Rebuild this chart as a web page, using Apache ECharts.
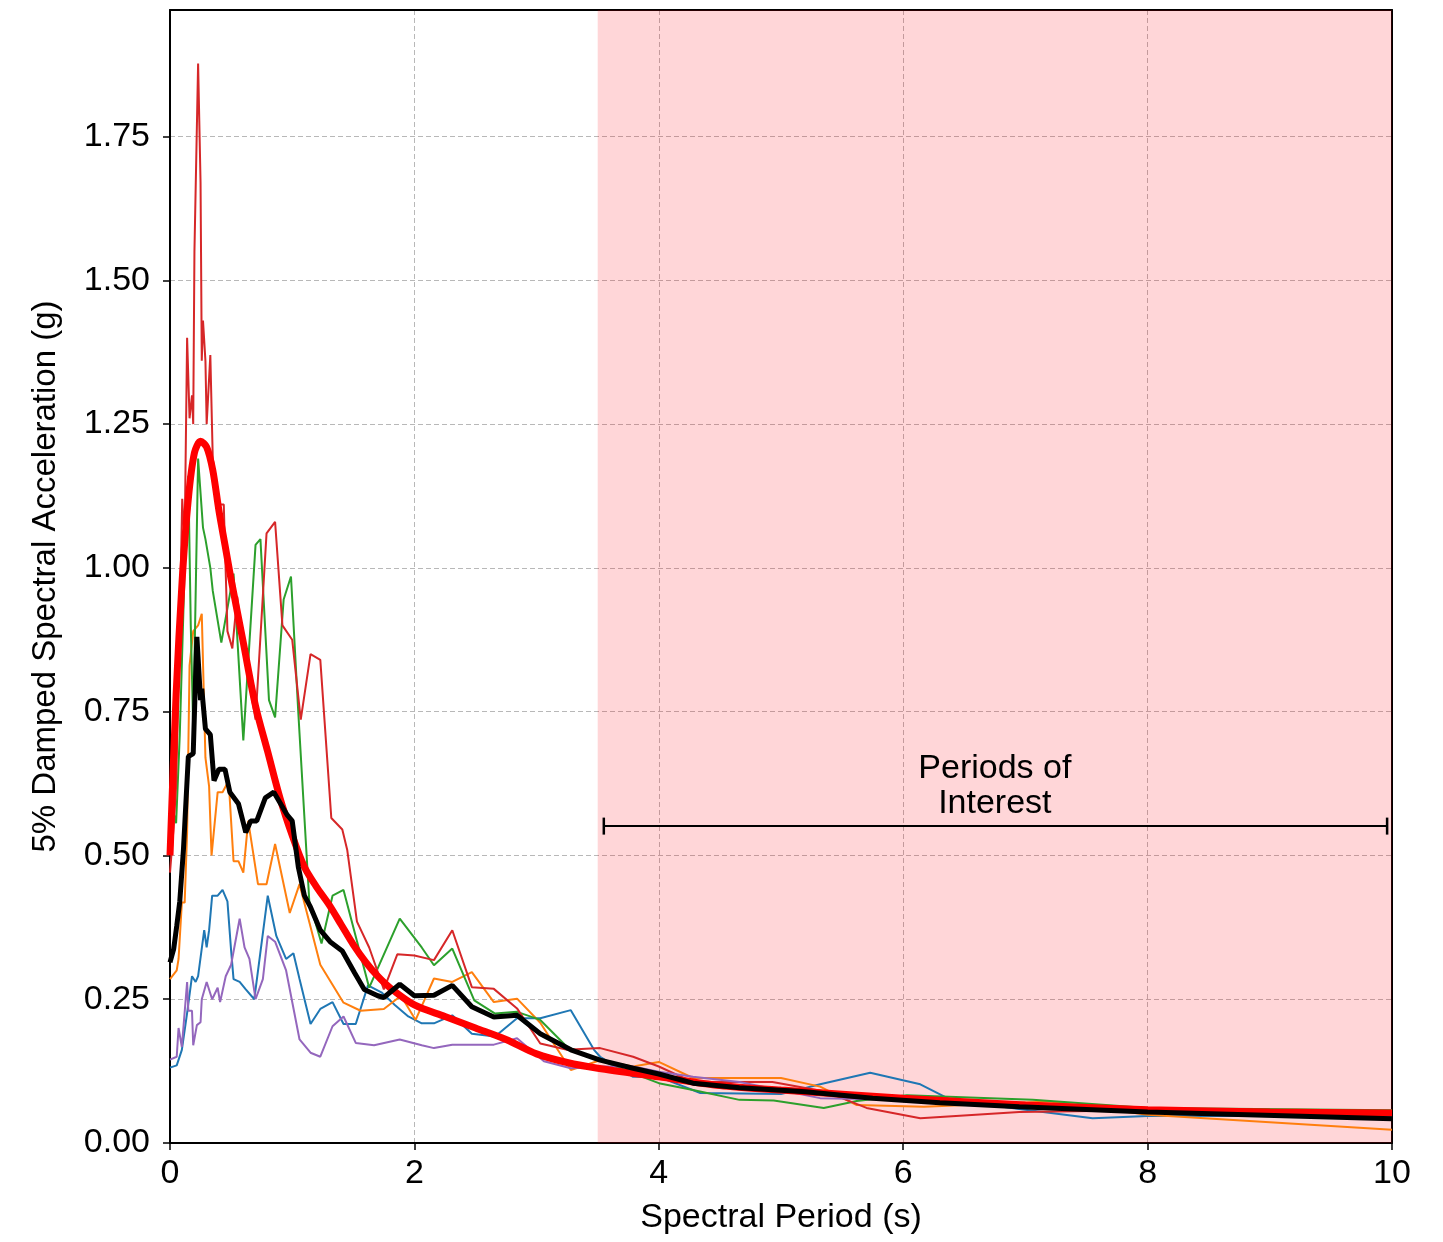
<!DOCTYPE html>
<html>
<head>
<meta charset="utf-8">
<script src="https://cdn.jsdelivr.net/npm/echarts@6/dist/echarts.min.js"></script>
<style>
  html, body { margin: 0; padding: 0; background: #fff; }
  #chart { width: 1443px; height: 1242px; }
</style>
</head>
<body>
<div id="chart"></div>
<script>
// spectra as [period (s), Sa (g)] pairs
const blueRecord = [[0,0.131],[0.055,0.135],[0.097,0.162],[0.14,0.226],[0.18,0.29],[0.21,0.28],[0.23,0.29],[0.28,0.37],[0.3,0.34],[0.32,0.37],[0.345,0.43],[0.39,0.43],[0.43,0.44],[0.47,0.42],[0.5,0.335],[0.52,0.285],[0.57,0.28],[0.62,0.267],[0.69,0.25],[0.8,0.43],[0.87,0.36],[0.95,0.32],[1.01,0.33],[1.06,0.285],[1.15,0.207],[1.23,0.233],[1.33,0.245],[1.42,0.207],[1.52,0.207],[1.62,0.274],[1.73,0.262],[1.84,0.24],[1.95,0.22],[2.06,0.208],[2.16,0.208],[2.31,0.222],[2.47,0.19],[2.66,0.185],[2.84,0.217],[3.03,0.217],[3.28,0.231],[3.47,0.162],[3.52,0.15],[3.79,0.115],[4.0,0.115],[4.34,0.087],[5.0,0.085],[5.32,0.102],[5.73,0.122],[6.14,0.102],[6.39,0.075],[6.95,0.059],[7.55,0.043],[8.0,0.047],[10,0.047]];
const orangeRecord = [[0,0.285],[0.055,0.3],[0.07,0.32],[0.097,0.418],[0.12,0.418],[0.14,0.54],[0.16,0.83],[0.19,0.89],[0.23,0.9],[0.26,0.92],[0.29,0.67],[0.32,0.62],[0.34,0.5],[0.39,0.61],[0.43,0.61],[0.48,0.63],[0.52,0.49],[0.56,0.49],[0.6,0.47],[0.64,0.56],[0.72,0.45],[0.79,0.45],[0.86,0.52],[0.98,0.4],[1.06,0.45],[1.23,0.31],[1.42,0.244],[1.56,0.23],[1.75,0.233],[1.89,0.256],[2.01,0.214],[2.16,0.286],[2.31,0.28],[2.47,0.297],[2.65,0.245],[2.84,0.251],[3.03,0.209],[3.28,0.127],[3.52,0.144],[3.79,0.133],[4.0,0.141],[4.28,0.113],[5.0,0.113],[5.32,0.098],[5.62,0.066],[6.17,0.063],[7.2,0.072],[8.0,0.049],[10,0.023]];
const greenRecord = [[0,0.6],[0.05,0.556],[0.08,0.71],[0.12,1.0],[0.15,1.16],[0.17,0.9],[0.19,0.72],[0.23,1.19],[0.27,1.07],[0.29,1.05],[0.33,1.0],[0.35,0.96],[0.42,0.87],[0.52,0.99],[0.6,0.7],[0.7,1.04],[0.74,1.05],[0.81,0.77],[0.86,0.74],[0.93,0.945],[0.99,0.985],[1.05,0.748],[1.14,0.42],[1.24,0.347],[1.33,0.43],[1.42,0.44],[1.63,0.27],[1.88,0.39],[2.06,0.34],[2.16,0.309],[2.31,0.338],[2.49,0.248],[2.66,0.225],[2.84,0.228],[3.03,0.214],[3.25,0.167],[3.52,0.144],[3.79,0.121],[4.0,0.104],[4.28,0.092],[4.66,0.075],[4.94,0.074],[5.35,0.061],[5.62,0.073],[6.03,0.083],[7.06,0.075],[8.0,0.061],[10,0.057]];
const redRecord = [[0,0.47],[0.03,0.55],[0.05,0.62],[0.08,0.9],[0.1,1.12],[0.12,1.05],[0.14,1.4],[0.16,1.26],[0.18,1.3],[0.19,1.25],[0.2,1.55],[0.23,1.877],[0.25,1.67],[0.26,1.36],[0.27,1.43],[0.29,1.36],[0.3,1.25],[0.33,1.37],[0.35,1.19],[0.4,1.11],[0.44,1.11],[0.47,0.89],[0.51,0.86],[0.55,0.95],[0.59,0.875],[0.7,0.736],[0.79,1.06],[0.86,1.08],[0.92,0.9],[1.0,0.875],[1.07,0.736],[1.15,0.85],[1.23,0.84],[1.32,0.565],[1.41,0.545],[1.45,0.51],[1.53,0.385],[1.63,0.34],[1.75,0.267],[1.86,0.328],[2.0,0.326],[2.16,0.318],[2.31,0.37],[2.47,0.271],[2.65,0.268],[2.84,0.234],[3.03,0.173],[3.25,0.162],[3.52,0.165],[3.79,0.15],[4.0,0.133],[4.28,0.106],[4.93,0.106],[5.37,0.089],[5.7,0.061],[6.14,0.043],[6.95,0.054],[8.0,0.057],[10,0.049]];
const purpleRecord = [[0,0.145],[0.055,0.15],[0.07,0.2],[0.097,0.167],[0.14,0.28],[0.15,0.23],[0.18,0.23],[0.19,0.17],[0.22,0.205],[0.25,0.21],[0.26,0.25],[0.3,0.28],[0.345,0.25],[0.39,0.27],[0.41,0.245],[0.456,0.29],[0.5,0.31],[0.57,0.39],[0.61,0.34],[0.65,0.32],[0.7,0.25],[0.76,0.285],[0.8,0.36],[0.86,0.35],[0.95,0.3],[1.06,0.18],[1.15,0.157],[1.23,0.15],[1.33,0.203],[1.42,0.22],[1.52,0.174],[1.67,0.17],[1.88,0.18],[2.06,0.17],[2.16,0.165],[2.31,0.171],[2.65,0.171],[2.84,0.182],[3.06,0.142],[3.28,0.13],[3.52,0.133],[3.79,0.133],[4.0,0.124],[4.28,0.115],[4.66,0.106],[5.32,0.078],[6.03,0.075],[7.0,0.064],[8.0,0.055],[10,0.044]];
const meanSpectrum = [[0,0.314],[0.03,0.337],[0.055,0.377],[0.08,0.42],[0.11,0.51],[0.15,0.672],[0.19,0.677],[0.2,0.747],[0.22,0.88],[0.25,0.77],[0.26,0.79],[0.29,0.72],[0.33,0.71],[0.36,0.63],[0.4,0.65],[0.45,0.65],[0.49,0.61],[0.56,0.59],[0.62,0.54],[0.66,0.56],[0.71,0.56],[0.78,0.6],[0.85,0.61],[0.96,0.57],[1.0,0.56],[1.05,0.48],[1.1,0.43],[1.15,0.41],[1.23,0.37],[1.31,0.35],[1.41,0.334],[1.51,0.296],[1.59,0.267],[1.7,0.256],[1.75,0.253],[1.88,0.276],[2.0,0.256],[2.16,0.257],[2.31,0.274],[2.47,0.237],[2.65,0.219],[2.84,0.222],[3.03,0.19],[3.28,0.162],[3.52,0.144],[3.79,0.13],[4.0,0.12],[4.28,0.104],[4.66,0.096],[5.2,0.089],[5.75,0.078],[6.3,0.07],[6.95,0.063],[8.0,0.054],[10,0.042]];
const targetSpectrum = [[0,0.5],[0.05,0.78],[0.1,0.98],[0.15,1.12],[0.2,1.2],[0.25,1.22],[0.3,1.21],[0.35,1.17],[0.4,1.1],[0.45,1.04],[0.5,0.98],[0.6,0.87],[0.7,0.76],[0.8,0.68],[0.9,0.6],[1.0,0.535],[1.1,0.48],[1.2,0.445],[1.3,0.415],[1.4,0.38],[1.5,0.345],[1.6,0.315],[1.7,0.29],[1.8,0.27],[2.0,0.24],[2.25,0.22],[2.5,0.2],[2.75,0.18],[3.0,0.155],[3.25,0.14],[3.5,0.13],[4.0,0.115],[4.5,0.1],[5.0,0.092],[6.0,0.078],[7.0,0.066],[8.0,0.058],[9.0,0.054],[10,0.052]];

const spanStart = 3.5, spanEnd = 10;
const interestBar = [[3.55, 0.551], [9.96, 0.551]];
const interestLabel = [[6.75, 0.621]];

const font = '"Liberation Sans", Arial, sans-serif';
const chart = echarts.init(document.getElementById('chart'), null, { renderer: 'canvas' });

function thin(data, color) {
  return {
    type: 'line', data: data, showSymbol: false, symbol: 'none',
    lineStyle: { color: color, width: 2 }, z: 3, silent: true
  };
}

const gridDash = { show: true, lineStyle: { color: '#b8b8b8', width: 1, type: [5, 3] } };
// top and right axes only draw the frame
const frameOnly = {
  axisLine: { show: true, onZero: false, lineStyle: { color: '#000', width: 2 } },
  axisTick: { show: false }, axisLabel: { show: false }, splitLine: { show: false }
};

let option = {
  animation: false,
  backgroundColor: '#fff',
  grid: { left: 170, right: 51, top: 10, bottom: 99 },
  xAxis: [{
    type: 'value', min: 0, max: 10, interval: 2,
    name: 'Spectral Period (s)', nameLocation: 'middle', nameGap: 58,
    nameTextStyle: { fontFamily: font, fontSize: 34, color: '#000' },
    axisLine: { onZero: false, lineStyle: { color: '#000', width: 2 } },
    axisTick: { show: true, length: 7, lineStyle: { color: '#000', width: 1.5 } },
    axisLabel: { fontFamily: font, fontSize: 34, color: '#000', margin: 14 },
    splitLine: gridDash
  }, Object.assign({ type: 'value', min: 0, max: 10, position: 'top' }, frameOnly)],
  yAxis: [{
    type: 'value', min: 0, max: 1.97, interval: 0.25,
    name: '5% Damped Spectral Acceleration (g)', nameLocation: 'middle', nameGap: 108,
    nameTextStyle: { fontFamily: font, fontSize: 33, color: '#000' },
    axisLine: { onZero: false, lineStyle: { color: '#000', width: 2 } },
    axisTick: { show: true, length: 7, lineStyle: { color: '#000', width: 1.5 } },
    axisLabel: {
      fontFamily: font, fontSize: 34, color: '#000', margin: 20, showMaxLabel: false,
      formatter: function (v) {
        let k = v / 0.25;
        return Math.abs(k - Math.round(k)) < 1e-6 ? v.toFixed(2) : '';
      }
    },
    splitLine: gridDash
  }, Object.assign({ type: 'value', min: 0, max: 1.97, position: 'right' }, frameOnly)],
  series: [
    Object.assign(thin(blueRecord, '#1f77b4'), {
      markArea: {
        silent: true,
        itemStyle: { color: 'rgba(255, 0, 10, 0.16)' },
        data: [[{ xAxis: spanStart }, { xAxis: spanEnd }]]
      }
    }),
    thin(orangeRecord, '#ff7f0e'),
    thin(greenRecord, '#2ca02c'),
    thin(redRecord, '#d62728'),
    thin(purpleRecord, '#9467bd'),
    {
      type: 'line', data: targetSpectrum, showSymbol: false, symbol: 'none', smooth: 0.3,
      lineStyle: { color: '#ff0000', width: 7 }, z: 4
    },
    {
      type: 'line', data: meanSpectrum, showSymbol: false, symbol: 'none',
      lineStyle: { color: '#000', width: 5 }, z: 5
    },
    {
      // periods of interest bar with end caps
      type: 'line', data: interestBar, showSymbol: true, symbol: 'rect', symbolSize: [2.5, 17],
      itemStyle: { color: '#000' }, lineStyle: { color: '#000', width: 2 }, z: 6
    },
    {
      type: 'scatter', data: interestLabel, symbolSize: 0, z: 6,
      itemStyle: { opacity: 1 },
      label: {
        show: true, position: 'inside', formatter: 'Periods of\nInterest',
        fontFamily: font, fontSize: 34, lineHeight: 35, color: '#000', align: 'center',
        textBorderWidth: 0, textBorderColor: 'transparent', opacity: 1
      }
    }
  ]
};
chart.setOption(option);
</script>
</body>
</html>
